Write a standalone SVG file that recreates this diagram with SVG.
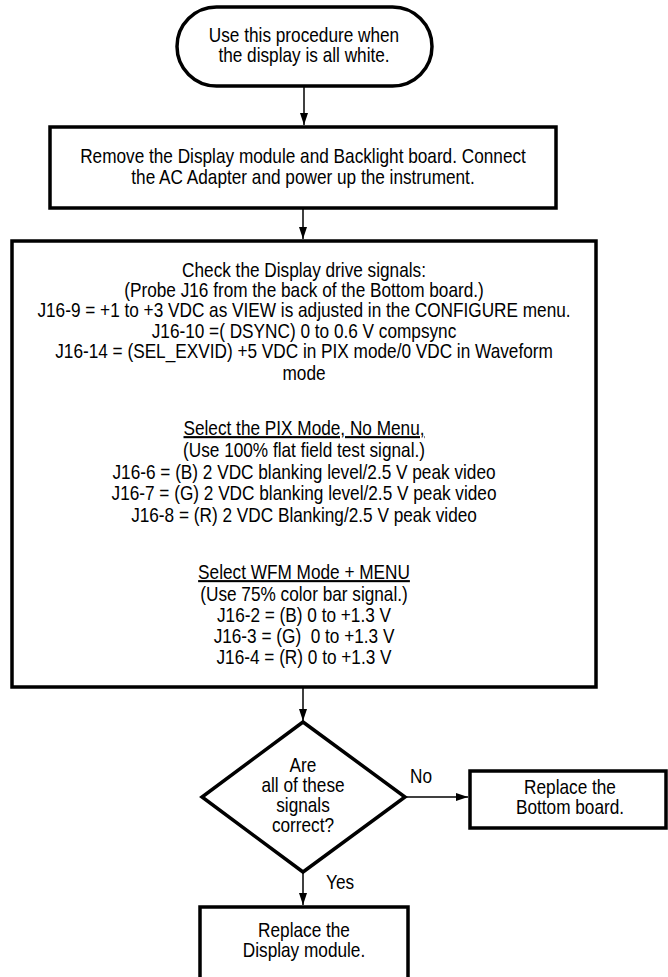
<svg xmlns="http://www.w3.org/2000/svg" width="668" height="977" viewBox="0 0 668 977">
<style>
text{font-family:"Liberation Sans",Arial,sans-serif;font-size:21px;fill:#000;text-anchor:middle}
.box{fill:#fff;stroke:#000;stroke-width:3.5}
.ln{fill:none;stroke:#000;stroke-width:1.5}
.u{text-decoration:underline}
.st{text-anchor:start}
</style>
<defs>
<marker id="ah" viewBox="0 0 12 8" refX="12" refY="4" markerWidth="12" markerHeight="8" markerUnits="userSpaceOnUse" orient="auto">
<path d="M0,0 L12,4 L0,8 Z" fill="#000"/>
</marker>
</defs>
<g id="connectors">
<line class="ln" x1="304" y1="86" x2="304" y2="125" marker-end="url(#ah)"/>
<line class="ln" x1="303" y1="208" x2="303" y2="239" marker-end="url(#ah)"/>
<line class="ln" x1="303" y1="687" x2="303" y2="721" marker-end="url(#ah)"/>
<line class="ln" x1="405" y1="797" x2="468" y2="797" marker-end="url(#ah)"/>
<line class="ln" x1="303" y1="872" x2="303" y2="905" marker-end="url(#ah)"/>
<g transform="translate(421 0) scale(0.82 1)"><text x="0" y="783">No</text></g>
<g transform="translate(326 0) scale(0.82 1)"><text class="st" x="0" y="889">Yes</text></g>
</g>
<g id="start">
<rect class="box" x="177" y="7" width="255" height="79" rx="39.5" ry="39.5"/>
<g transform="translate(304 0) scale(0.82 1)">
<text x="0" y="42">Use this procedure when</text>
<text x="0" y="62">the display is all white.</text>
</g>
</g>
<g id="remove">
<rect class="box" x="50" y="127" width="506" height="81"/>
<g transform="translate(303 0) scale(0.82 1)">
<text x="0" y="163">Remove the Display module and Backlight board. Connect</text>
<text x="0" y="184">the AC Adapter and power up the instrument.</text>
</g>
</g>
<g id="check">
<rect class="box" x="12" y="241" width="584" height="446"/>
<g transform="translate(304 0) scale(0.82 1)">
<text x="0" y="277">Check the Display drive signals:</text>
<text x="0" y="297">(Probe J16 from the back of the Bottom board.)</text>
<text x="0" y="317">J16-9 = +1 to +3 VDC as VIEW is adjusted in the CONFIGURE menu.</text>
<text x="0" y="338">J16-10 =( DSYNC) 0 to 0.6 V compsync</text>
<text x="0" y="358">J16-14 = (SEL_EXVID) +5 VDC in PIX mode/0 VDC in Waveform</text>
<text x="0" y="380">mode</text>
<text class="u" x="0" y="435">Select the PIX Mode, No Menu,</text>
<text x="0" y="457">(Use 100% flat field test signal.)</text>
<text x="0" y="479">J16-6 = (B) 2 VDC blanking level/2.5 V peak video</text>
<text x="0" y="500">J16-7 = (G) 2 VDC blanking level/2.5 V peak video</text>
<text x="0" y="522">J16-8 = (R) 2 VDC Blanking/2.5 V peak video</text>
<text class="u" x="0" y="579">Select WFM Mode + MENU</text>
<text x="0" y="601">(Use 75% color bar signal.)</text>
<text x="0" y="622">J16-2 = (B) 0 to +1.3 V</text>
<text x="0" y="643" xml:space="preserve">J16-3 = (G)  0 to +1.3 V</text>
<text x="0" y="664">J16-4 = (R) 0 to +1.3 V</text>
</g>
</g>
<g id="decision">
<polygon class="box" points="303,722 405,797 303,872 202,797"/>
<g transform="translate(303 0) scale(0.82 1)">
<text x="0" y="772">Are</text>
<text x="0" y="792">all of these</text>
<text x="0" y="812">signals</text>
<text x="0" y="832">correct?</text>
</g>
</g>
<g id="replace-bottom">
<rect class="box" x="470" y="771" width="196" height="57"/>
<g transform="translate(570 0) scale(0.82 1)">
<text x="0" y="794">Replace the</text>
<text x="0" y="814">Bottom board.</text>
</g>
</g>
<g id="replace-display">
<rect class="box" x="200" y="907" width="208" height="90"/>
<g transform="translate(304 0) scale(0.82 1)">
<text x="0" y="937">Replace the</text>
<text x="0" y="957">Display module.</text>
</g>
</g>
</svg>
